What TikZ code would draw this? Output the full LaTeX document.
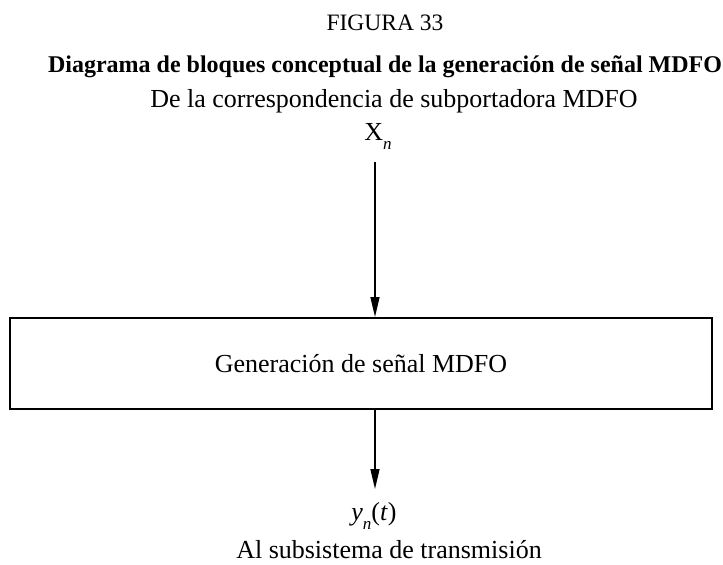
\documentclass[tikz,border=0pt]{standalone}
\usepackage{fontspec}
\setmainfont{Liberation Serif}
\usetikzlibrary{arrows.meta}
\newcommand{\lowsub}[1]{\raisebox{-9pt}{\fontsize{17}{17}\selectfont\itshape #1}}
\begin{document}
\begin{tikzpicture}[x=1pt,y=-1pt,
  txt/.style={inner sep=0pt,anchor=base},
  big/.style={font=\fontsize{26}{30}\selectfont},
  flow/.style={line width=1.5pt,-{Triangle[length=20pt,width=9pt]}},
  blk/.style={draw,line width=2pt,minimum width=702pt,minimum height=91pt,inner sep=0pt}]
\useasboundingbox (0,0) rectangle (723,565);
\node[txt,font=\fontsize{23.5}{28}\selectfont] (fig) at (385,30) {FIGURA 33};
\node[txt,font=\fontsize{24}{28}\selectfont\bfseries] (title) at (385,72) {Diagrama de bloques conceptual de la generación de señal MDFO};
\node[txt,big] (src) at (394,107) {De la correspondencia de subportadora MDFO};
\node[txt,big] (xn) at (378,140) {X\lowsub{n}};
\coordinate (a1) at (375,162);
\node[blk,big] (gen) at (361,363.5) {Generación de señal MDFO};
\coordinate (a2) at (375,489);
\node[txt,big] (yn) at (374,520) {{\itshape y}\lowsub{n}(\textit{t})};
\node[txt,big] (dst) at (389,558) {Al subsistema de transmisión};
\draw[flow] (a1) -- (a1 |- gen.north);
\draw[flow] (a1 |- gen.south) -- (a2);
\end{tikzpicture}
\end{document}
